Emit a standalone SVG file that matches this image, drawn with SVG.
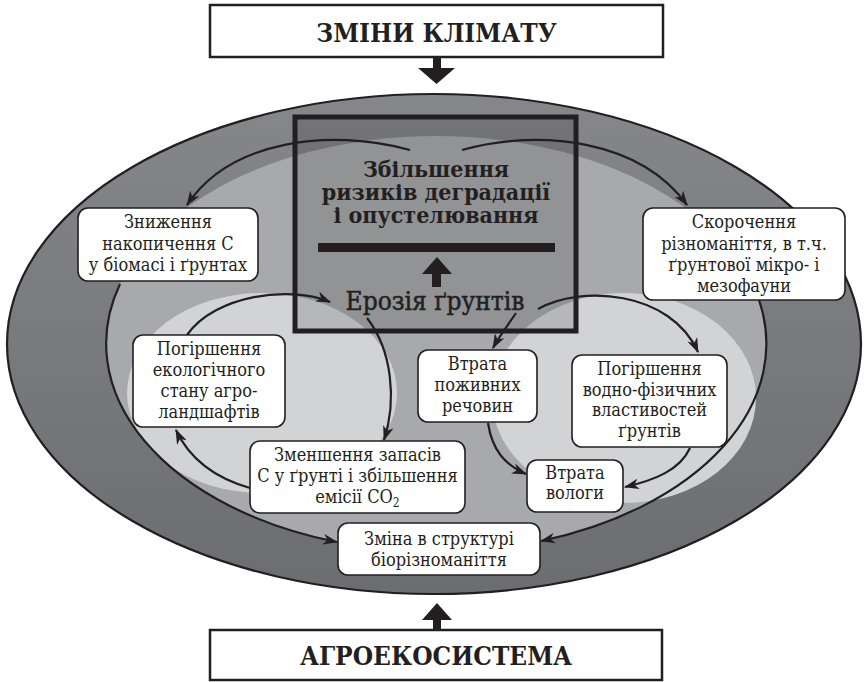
<svg xmlns="http://www.w3.org/2000/svg" width="868" height="682" viewBox="0 0 868 682">
<defs>
<linearGradient id="outerG" x1="0" y1="0" x2="0" y2="1">
<stop offset="0" stop-color="#86878a"/>
<stop offset="1" stop-color="#6c6d70"/>
</linearGradient>
<marker id="ah" viewBox="0 0 14 10" refX="13" refY="5" markerWidth="15" markerHeight="11" markerUnits="userSpaceOnUse" orient="auto">
<path d="M0,0 L14,5 L0,10 L4,5 z" fill="#231f20"/>
</marker>
<style>
.node rect{fill:#fff;stroke:#231f20;stroke-width:1.6}
.t{font-family:"DejaVu Serif Condensed","DejaVu Serif",serif;font-size:18px;fill:#231f20;text-anchor:middle}
.big{font-family:"DejaVu Serif Condensed","DejaVu Serif",serif;font-weight:bold;fill:#231f20;text-anchor:middle}
.title{font-size:23px}
.head{font-size:26px}
.ero{font-family:"DejaVu Serif Condensed","DejaVu Serif",serif;font-size:26px;fill:#231f20;stroke:#231f20;stroke-width:0.5;text-anchor:middle}
.conn path{fill:none;stroke:#231f20;stroke-width:2.2;marker-end:url(#ah)}
.frame{fill:#fff;stroke:#231f20;stroke-width:2.5}
</style>
</defs>

<!-- background layers -->
<ellipse cx="434" cy="344" rx="427" ry="250" fill="url(#outerG)" stroke="#231f20" stroke-width="2.2"/>
<ellipse cx="436" cy="344" rx="330" ry="208" fill="#a7a9ac"/>
<ellipse cx="262" cy="393" rx="135" ry="100" fill="#d1d3d4"/>
<ellipse cx="624" cy="398" rx="132" ry="105" fill="#d1d3d4"/>

<!-- central box -->
<g id="center">
<rect x="295" y="117" width="281" height="214" fill="#000" fill-opacity="0.13" stroke="#231f20" stroke-width="5"/>
<text class="big title" x="436" y="177">Збільшення<tspan x="436" dy="23">ризиків деградації</tspan><tspan x="436" dy="23">і опустелювання</tspan></text>
<rect x="318" y="243" width="237" height="9" fill="#231f20"/>
<polygon points="422,274 452,274 437,257" fill="#231f20"/>
<rect x="432" y="273" width="9" height="14" fill="#231f20"/>
<text class="ero" x="435" y="310">Ерозія ґрунтів</text>
</g>

<!-- connectors -->
<g id="connectors" class="conn">
<path d="M410,150 C330,128 230,140 187,205"/>
<path d="M462,150 C540,128 640,140 687,205"/>
<path d="M120,284 A330,208 0 0 0 337,542"/>
<path d="M759,300 A330,208 0 0 1 541,541"/>
<path d="M187,335 C215,295 290,285 330,302"/>
<path d="M367,318 C392,350 397,400 384,440"/>
<path d="M250,488 C215,478 190,460 176,430"/>
<path d="M538,309 C580,285 670,290 698,352"/>
<path d="M516,313 C508,325 500,335 493,348"/>
<path d="M488,423 C492,450 505,465 526,474"/>
<path d="M690,448 C680,470 655,480 625,487"/>
</g>

<!-- top box -->
<g id="climate">
<rect class="frame" x="210" y="5" width="453" height="52"/>
<text class="big head" x="436.5" y="42">ЗМІНИ КЛІМАТУ</text>
<rect x="433" y="56" width="8" height="13" fill="#231f20"/>
<polygon points="418,68 455,68 436.5,84" fill="#231f20"/>
</g>

<!-- bottom box -->
<g id="agro">
<polygon points="422,620 452,620 437,603" fill="#231f20"/>
<rect x="433" y="619" width="8" height="12" fill="#231f20"/>
<rect class="frame" x="210" y="630" width="452" height="50"/>
<text class="big head" x="436" y="665">АГРОЕКОСИСТЕМА</text>
</g>

<g id="n1" class="node">
<rect x="78" y="208" width="180" height="73" rx="10"/>
<text class="t" x="168" y="228">Зниження</text>
<text class="t" x="168" y="250">накопичення С</text>
<text class="t" x="168" y="271">у біомасі і ґрунтах</text>
</g>
<g id="n2" class="node">
<rect x="643" y="208" width="202" height="92" rx="10"/>
<text class="t" x="744" y="228">Скорочення</text>
<text class="t" x="744" y="250">різноманіття, в т.ч.</text>
<text class="t" x="744" y="271">ґрунтової мікро- і</text>
<text class="t" x="744" y="292">мезофауни</text>
</g>
<g id="n3" class="node">
<rect x="133" y="335" width="152" height="92" rx="10"/>
<text class="t" x="209" y="355">Погіршення</text>
<text class="t" x="209" y="376">екологічного</text>
<text class="t" x="209" y="397">стану агро-</text>
<text class="t" x="209" y="418">ландшафтів</text>
</g>
<g id="n4" class="node">
<rect x="418" y="350" width="119" height="72" rx="10"/>
<text class="t" x="477.5" y="370">Втрата</text>
<text class="t" x="477.5" y="391">поживних</text>
<text class="t" x="477.5" y="412">речовин</text>
</g>
<g id="n5" class="node">
<rect x="572" y="355" width="155" height="92" rx="10"/>
<text class="t" x="649.5" y="375">Погіршення</text>
<text class="t" x="649.5" y="396">водно-фізичних</text>
<text class="t" x="649.5" y="416">властивостей</text>
<text class="t" x="649.5" y="437">ґрунтів</text>
</g>
<g id="n6" class="node">
<rect x="250" y="441" width="215" height="72" rx="10"/>
<text class="t" x="357.5" y="461">Зменшення запасів</text>
<text class="t" x="357.5" y="482">С у ґрунті і збільшення</text>
<text class="t" x="357.5" y="503">емісії CO<tspan font-size="12" dy="4">2</tspan></text>
</g>
<g id="n7" class="node">
<rect x="527" y="460" width="96" height="52" rx="10"/>
<text class="t" x="575" y="479">Втрата</text>
<text class="t" x="575" y="499">вологи</text>
</g>
<g id="n8" class="node">
<rect x="338" y="523" width="202" height="52" rx="10"/>
<text class="t" x="439" y="545">Зміна в структурі</text>
<text class="t" x="439" y="566">біорізноманіття</text>
</g>
</svg>
